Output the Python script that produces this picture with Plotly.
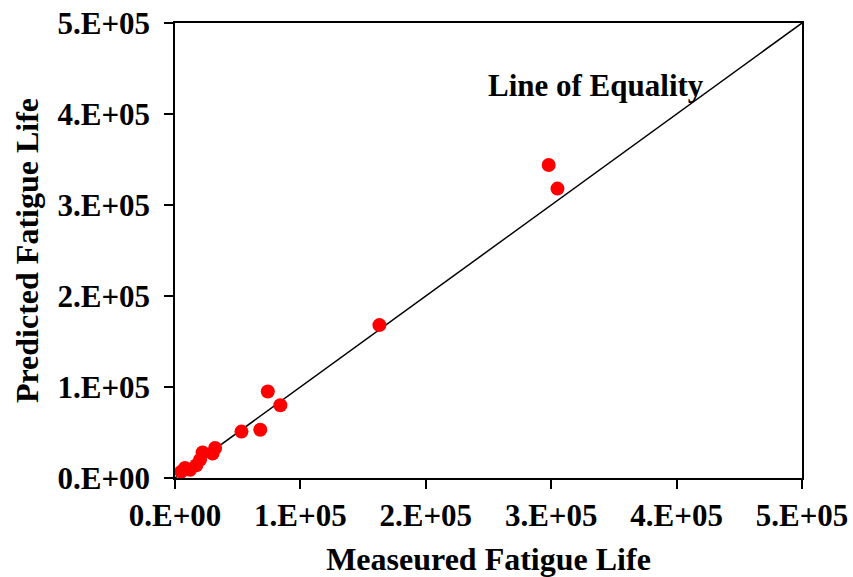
import plotly.graph_objects as go

# Measured vs predicted fatigue life (cycles)
measured = [5000, 8000, 12000, 17000, 20000, 22000, 30000, 32000,
            53000, 68000, 74000, 84000, 163000, 298000, 305000]
predicted = [7000, 11000, 9000, 14000, 20000, 28000, 27000, 33000,
             51000, 53000, 95000, 80000, 168000, 344000, 318000]

tick_vals = [0, 100000, 200000, 300000, 400000, 500000]
tick_text = ["0.E+00", "1.E+05", "2.E+05", "3.E+05", "4.E+05", "5.E+05"]
equality = [0, 500000]

font_family = "Liberation Serif"

fig = go.Figure()
fig.add_trace(go.Scatter(
    x=equality, y=equality, mode="lines",
    line=dict(color="black", width=1.5), showlegend=False, hoverinfo="skip"))
fig.add_trace(go.Scatter(
    x=measured, y=predicted, mode="markers",
    marker=dict(color="#ff0000", size=14, line=dict(width=0)),
    showlegend=False))

fig.add_annotation(x=336000, y=431000, text="<b>Line of Equality</b>",
                   showarrow=False,
                   font=dict(family=font_family, size=31, color="black"))

axis_common = dict(
    range=[0, 500000], tickvals=tick_vals, ticktext=tick_text,
    showgrid=False, zeroline=False, showline=True, linecolor="black",
    linewidth=1.5, mirror=True, ticks="outside", ticklen=9,
    tickcolor="black", tickwidth=1.5, automargin=False,
    tickfont=dict(family=font_family, size=31, color="black", weight="bold"),
)

fig.update_xaxes(**axis_common,
                 title=dict(text="<b>Measeured Fatigue Life</b>",
                            font=dict(family=font_family, size=32, color="black"),
                            standoff=23))
fig.update_yaxes(**axis_common, ticklabelstandoff=8,
                 title=dict(text="<b>Predicted Fatigue Life</b>",
                            font=dict(family=font_family, size=32, color="black"),
                            standoff=9))

fig.update_layout(
    width=853, height=577,
    margin=dict(l=175, r=51, t=23, b=99),
    plot_bgcolor="white", paper_bgcolor="white",
)

fig.write_html("out.html")
